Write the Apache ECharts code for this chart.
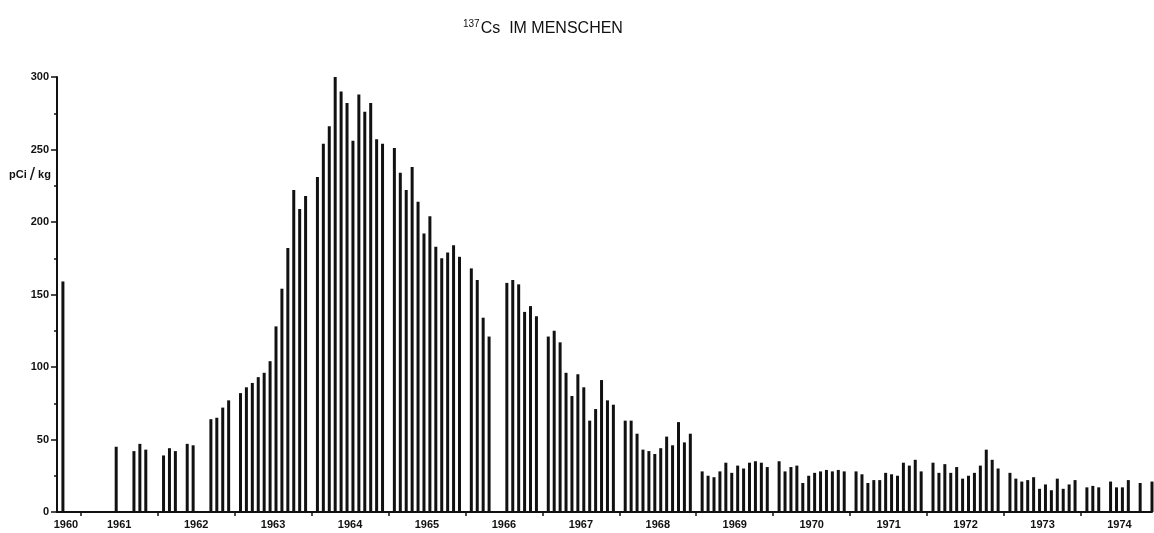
<!DOCTYPE html>
<html>
<head>
<meta charset="utf-8">
<script src="https://cdn.jsdelivr.net/npm/echarts@6/dist/echarts.min.js"></script>
<style>
html,body{margin:0;padding:0;background:#fff;}
#chart{width:1154px;height:533px;}
</style>
</head>
<body>
<div id="chart"></div>
<script>
// Monthly values (Jan..Dec), pCi/kg; null = no measurement
var y1960 = [null, null, null, null, null, null, null, null, null, 159, null, null];
var y1961 = [null, null, null, null, null, 45, null, null, 42, 47, 43, null];
var y1962 = [39, 44, 42, null, 47, 46, null, null, 64, 65, 72, 77];
var y1963 = [82, 86, 89, 93, 96, 104, 128, 154, 182, 222, 209, 218];
var y1964 = [231, 254, 266, 300, 290, 282, 256, 288, 276, 282, 257, 254];
var y1965 = [251, 234, 222, 238, 214, 192, 204, 183, 175, 179, 184, 176];
var y1966 = [168, 160, 134, 121, null, null, 158, 160, 157, 138, 142, 135];
var y1967 = [121, 125, 117, 96, 80, 95, 86, 63, 71, 91, 77, 74];
var y1968 = [63, 63, 54, 43, 42, 40, 44, 52, 46, 62, 48, 54];
var y1969 = [28, 25, 24, 28, 34, 27, 32, 30, 34, 35, 34, 31];
var y1970 = [35, 28, 31, 32, 20, 25, 27, 28, 29, 28, 29, 28];
var y1971 = [28, 26, 20, 22, 22, 27, 26, 25, 34, 32, 36, 28];
var y1972 = [34, 27, 33, 27, 31, 23, 25, 27, 32, 43, 36, 30];
var y1973 = [27, 23, 21, 22, 24, 16, 19, 15, 23, 16, 19, 22];
var y1974 = [17, 18, 17, null, 21, 17, 17, 22, null, 20, null, 21];

var years = [1960, 1961, 1962, 1963, 1964, 1965, 1966, 1967, 1968, 1969, 1970, 1971, 1972, 1973, 1974];
var yearData = [y1960, y1961, y1962, y1963, y1964, y1965, y1966, y1967, y1968, y1969, y1970, y1971, y1972, y1973, y1974];
var firstMonth1960 = 9; // axis starts in September 1960
var yTicks = [0, 50, 100, 150, 200, 250, 300];

function pad(n){ return (n < 10 ? '0' : '') + n; }

// Build categories: each year after 1960 has a boundary slot ("-00") plus 12 months
var categories = [];
var values = [];
years.forEach(function (yr, i) {
  var start = 1;
  if (yr === 1960) { start = firstMonth1960; }
  else { categories.push(yr + '-00'); values.push(null); }
  for (var m = start; m <= 12; m++) {
    categories.push(yr + '-' + pad(m));
    values.push(yearData[i][m - 1]);
  }
});

var labelCats = {};
years.forEach(function (yr) {
  labelCats[yr === 1960 ? '1960-10' : yr + '-06'] = true;
});

var font = '"Liberation Sans", Arial, sans-serif';
var chart = echarts.init(document.getElementById('chart'), null, {renderer: 'canvas'});
chart.setOption({
  animation: false,
  backgroundColor: '#ffffff',
  title: {
    text: '{sup|137}{main|Cs  IM MENSCHEN}',
    left: 458,
    top: 14,
    textStyle: {
      fontWeight: 'normal',
      rich: {
        sup: {fontSize: 10, fontFamily: font, fontWeight: 'normal', color: '#111', verticalAlign: 'top', lineHeight: 19, padding: [0, 1, 0, 0]},
        main: {fontSize: 16, fontFamily: font, fontWeight: 'normal', color: '#111', lineHeight: 19}
      }
    }
  },
  graphic: [{
    type: 'text',
    left: 9,
    top: 165,
    style: {
      text: 'pCi {s|/} kg',
      font: 'bold 11px ' + font,
      fill: '#111',
      rich: {
        s: {fontSize: 19, fontFamily: font, fill: '#111', fontWeight: 'normal'}
      }
    }
  }],
  grid: {left: 57, right: 2, top: 77, bottom: 21, containLabel: false},
  xAxis: {
    type: 'category',
    data: categories,
    boundaryGap: false,
    axisLine: {show: true, lineStyle: {color: '#111', width: 2}},
    axisTick: {
      show: true,
      length: 4,
      inside: false,
      lineStyle: {color: '#111', width: 1.5},
      interval: function (idx, val) { return /-00$/.test(val); }
    },
    axisLabel: {
      show: true,
      interval: function (idx, val) { return !!labelCats[val]; },
      formatter: function (val) { return val.slice(0, 4); },
      fontFamily: font,
      fontSize: 11,
      fontWeight: 'bold',
      color: '#111',
      margin: 7,
      padding: [0, 0, 0, 6]
    },
    splitLine: {show: false}
  },
  yAxis: {
    type: 'value',
    min: yTicks[0],
    max: yTicks[yTicks.length - 1],
    interval: 50,
    axisLine: {show: true, lineStyle: {color: '#111', width: 2}},
    axisTick: {show: true, length: 6, lineStyle: {color: '#111', width: 1.5}},
    minorTick: {show: true, splitNumber: 2, length: 3, lineStyle: {color: '#111', width: 1.5}},
    axisLabel: {fontFamily: font, fontSize: 11, fontWeight: 'bold', color: '#111', margin: 8},
    splitLine: {show: false}
  },
  series: [{
    type: 'bar',
    data: values,
    barWidth: 3,
    clip: false,
    itemStyle: {color: '#111'}
  }]
});
</script>
</body>
</html>
